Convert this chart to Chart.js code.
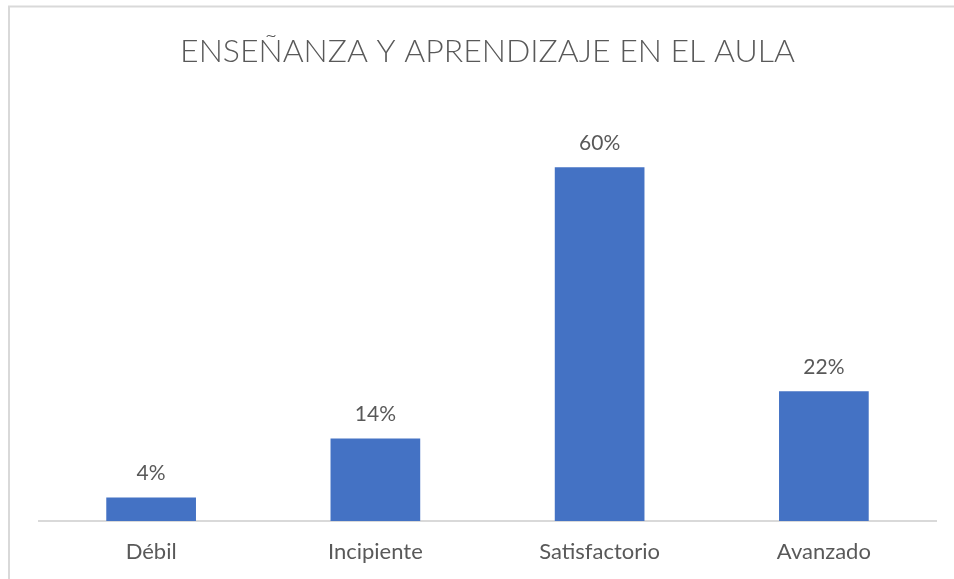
<!DOCTYPE html>
<html>
<head>
<meta charset="utf-8">
<script src="https://cdn.jsdelivr.net/npm/chart.js@4.4.0/dist/chart.umd.min.js"></script>
<style>
  html, body { margin: 0; padding: 0; background: #ffffff; }
  canvas { display: block; }
</style>
</head>
<body>
<canvas id="chart" width="954" height="579"></canvas>
<script>
// Chart data
var chartTitle = "ENSEÑANZA Y APRENDIZAJE EN EL AULA";
var categories = ["Débil", "Incipiente", "Satisfactorio", "Avanzado"];
var shares = [0.04, 0.14, 0.60, 0.22];
var axisMax = 0.7;

var textColor = "#595959";
var barColor = "#4472C4";
var lineColor = "#D9D9D9";

// Excel style frame round the chart area
var framePlugin = {
  id: "frame",
  beforeDraw: function(chart) {
    var ctx = chart.ctx;
    ctx.save();
    ctx.fillStyle = "#ffffff";
    ctx.fillRect(0, 0, chart.width, chart.height);
    ctx.strokeStyle = lineColor;
    ctx.lineWidth = 2;
    ctx.strokeRect(9, 6.5, chart.width + 20, chart.height + 20);
    ctx.restore();
  }
};

// Percentage labels above each bar
var valueLabels = {
  id: "valueLabels",
  afterDatasetsDraw: function(chart) {
    var ctx = chart.ctx;
    var meta = chart.getDatasetMeta(0);
    ctx.save();
    ctx.font = "21px Lato, 'Open Sans', sans-serif";
    ctx.fillStyle = textColor;
    ctx.textAlign = "center";
    ctx.textBaseline = "alphabetic";
    meta.data.forEach(function(bar, i) {
      var v = chart.data.datasets[0].data[i];
      ctx.fillText(Math.round(v * 100) + "%", bar.x, bar.y - 17);
    });
    ctx.restore();
  }
};

var ctx = document.getElementById("chart");
var chart = new Chart(ctx, {
  type: "bar",
  data: {
    labels: categories,
    datasets: [{
      data: shares,
      backgroundColor: barColor,
      borderWidth: 0,
      categoryPercentage: 1.0,
      barPercentage: 0.4
    }]
  },
  options: {
    responsive: false,
    animation: false,
    layout: {
      padding: { left: 39, right: 18, top: 0, bottom: 0 }
    },
    plugins: {
      legend: { display: false },
      tooltip: { enabled: false },
      title: {
        display: true,
        text: chartTitle,
        color: textColor,
        font: { family: "Lato, 'Open Sans', sans-serif", size: 32, weight: "300" },
        padding: { top: 32, bottom: 38 }
      }
    },
    scales: {
      x: {
        grid: { display: false, drawTicks: false },
        border: { display: true, color: lineColor, width: 2 },
        ticks: {
          color: textColor,
          font: { family: "Lato, 'Open Sans', sans-serif", size: 22 },
          padding: 18,
          maxRotation: 0
        },
        afterFit: function(scale) {
          scale.height = 58;
        }
      },
      y: {
        display: false,
        min: 0,
        max: axisMax
      }
    }
  },
  plugins: [framePlugin, valueLabels]
});
</script>
</body>
</html>
